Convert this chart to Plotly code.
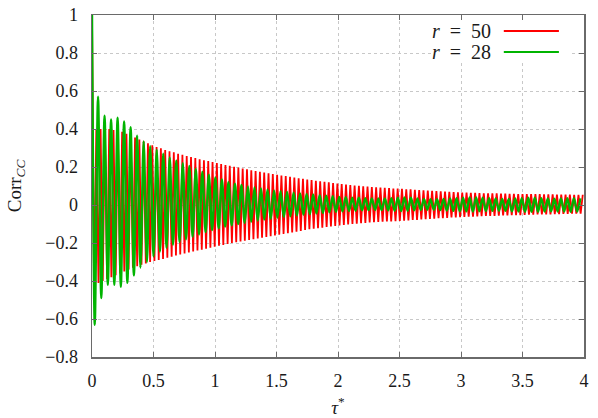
import numpy as np
import plotly.graph_objects as go

# ---------------- data ----------------
series_names = ["r = 50", "r = 28"]
start_value = 1.0

# r = 50 : half-period spacing of extrema and the extrema values
red_period = 0.035
red_first_trough = 0.0175
red_troughs = [
    -0.50, -0.41, -0.40, -0.39, -0.38, -0.37, -0.36, -0.35, -0.34, -0.33,
    -0.322, -0.315, -0.308, -0.30, -0.295, -0.29, -0.284, -0.278, -0.272, -0.266,
    -0.26, -0.255, -0.25, -0.245, -0.24, -0.235, -0.23, -0.225, -0.22, -0.215,
    -0.21, -0.205, -0.20, -0.196, -0.192, -0.188, -0.184, -0.18, -0.176, -0.172,
    -0.168, -0.164, -0.16, -0.156, -0.152, -0.148, -0.144, -0.14, -0.136, -0.132,
    -0.128, -0.125, -0.122, -0.119, -0.116, -0.113, -0.11, -0.107, -0.105, -0.103,
    -0.10, -0.098, -0.096, -0.094, -0.092, -0.09, -0.089, -0.088, -0.087, -0.086,
    -0.085, -0.084, -0.082, -0.081, -0.079, -0.078, -0.076, -0.075, -0.073, -0.072,
    -0.07, -0.069, -0.068, -0.066, -0.065, -0.064, -0.063, -0.062, -0.061, -0.060,
    -0.059, -0.058, -0.058, -0.057, -0.056, -0.055, -0.055, -0.054, -0.053, -0.053,
    -0.052, -0.051, -0.051, -0.050, -0.050, -0.049, -0.049, -0.048, -0.048, -0.047,
    -0.047, -0.046, -0.046, -0.045,
]
red_peaks = [
    0.40, 0.40, 0.40, 0.40, 0.395, 0.39, 0.385, 0.375, 0.365, 0.355,
    0.345, 0.335, 0.325, 0.315, 0.305, 0.298, 0.29, 0.283, 0.277, 0.27,
    0.264, 0.258, 0.252, 0.247, 0.241, 0.236, 0.231, 0.226, 0.221, 0.216,
    0.211, 0.206, 0.201, 0.197, 0.192, 0.188, 0.183, 0.179, 0.175, 0.171,
    0.167, 0.163, 0.159, 0.155, 0.152, 0.148, 0.145, 0.141, 0.138, 0.134,
    0.131, 0.128, 0.125, 0.122, 0.119, 0.116, 0.113, 0.110, 0.108, 0.105,
    0.103, 0.101, 0.099, 0.097, 0.095, 0.093, 0.092, 0.090, 0.089, 0.087,
    0.086, 0.085, 0.083, 0.082, 0.080, 0.079, 0.077, 0.076, 0.075, 0.073,
    0.072, 0.071, 0.070, 0.068, 0.067, 0.066, 0.065, 0.064, 0.064, 0.063,
    0.062, 0.062, 0.061, 0.061, 0.060, 0.060, 0.059, 0.059, 0.058, 0.058,
    0.058, 0.057, 0.057, 0.057, 0.056, 0.056, 0.056, 0.055, 0.055, 0.055,
    0.055, 0.054, 0.054, 0.054,
]

# r = 28
green_period = 0.053
green_first_trough = 0.0225
green_troughs = [
    -0.63, -0.49, -0.42, -0.42, -0.43, -0.41, -0.37, -0.33, -0.30, -0.27,
    -0.245, -0.225, -0.21, -0.195, -0.18, -0.167, -0.155, -0.143, -0.132, -0.122,
    -0.114, -0.107, -0.10, -0.094, -0.088, -0.082, -0.077, -0.072, -0.067, -0.063,
    -0.059, -0.055, -0.051, -0.048, -0.045, -0.042, -0.039, -0.036, -0.034, -0.032,
    -0.03, -0.028, -0.027, -0.026, -0.027, -0.028, -0.03, -0.032, -0.03, -0.028,
    -0.026, -0.025, -0.025, -0.027, -0.029, -0.031, -0.033, -0.034, -0.034, -0.033,
    -0.032, -0.031, -0.03, -0.031, -0.033, -0.035, -0.036, -0.036, -0.035, -0.034,
    -0.033, -0.034, -0.035, -0.036, -0.035,
]
green_peaks = [
    0.57, 0.47, 0.45, 0.46, 0.44, 0.41, 0.365, 0.335, 0.31, 0.29,
    0.27, 0.25, 0.235, 0.22, 0.205, 0.19, 0.175, 0.16, 0.145, 0.135,
    0.12, 0.112, 0.105, 0.098, 0.092, 0.087, 0.082, 0.077, 0.073, 0.069,
    0.065, 0.061, 0.058, 0.055, 0.052, 0.049, 0.046, 0.043, 0.041, 0.039,
    0.038, 0.036, 0.035, 0.034, 0.035, 0.036, 0.038, 0.04, 0.038, 0.035,
    0.032, 0.03, 0.03, 0.032, 0.034, 0.036, 0.038, 0.04, 0.04, 0.038,
    0.036, 0.034, 0.032, 0.032, 0.034, 0.036, 0.038, 0.038, 0.036, 0.034,
    0.033, 0.034, 0.036, 0.036, 0.035,
]

x_ticks = [0, 0.5, 1, 1.5, 2, 2.5, 3, 3.5, 4]
y_ticks = [-0.8, -0.6, -0.4, -0.2, 0, 0.2, 0.4, 0.6, 0.8, 1]


def build(first_trough, period, troughs, peaks):
    n = min(len(troughs), len(peaks))
    t_tr = first_trough + period * np.arange(n)
    t_pk = t_tr + period / 2
    xs = [0.0]
    ys = [start_value]
    for i in range(n):
        xs += [t_tr[i], t_pk[i]]
        ys += [troughs[i], peaks[i]]
    return xs, ys


rx, ry = build(red_first_trough, red_period, red_troughs, red_peaks)
gx, gy = build(green_first_trough, green_period, green_troughs, green_peaks)

RED = "#ff0000"
GREEN = "#00b400"
FONT = "Liberation Serif"
TXT = "#1a1a1a"

fig = go.Figure()
fig.add_trace(go.Scatter(x=rx, y=ry, mode="lines", name=series_names[0],
                         line=dict(color=RED, width=1.8), showlegend=False))
fig.add_trace(go.Scatter(x=gx, y=gy, mode="lines", name=series_names[1],
                         line=dict(color=GREEN, width=2.4, shape="spline", smoothing=0.8),
                         showlegend=False))

axis_common = dict(
    showline=True, linecolor="#6a6a6a", linewidth=1.5, mirror="allticks",
    ticks="inside", ticklen=5, tickcolor="#6a6a6a", tickwidth=1,
    showgrid=True, gridcolor="#c8c8c8", griddash="dot", gridwidth=1,
    zeroline=False, automargin=False, ticklabeloverflow="allow",
    tickfont=dict(family=FONT, size=18, color=TXT),
)

fig.update_xaxes(range=[0, 4], tickvals=x_ticks, ticktext=[f"{v:g}" for v in x_ticks],
                 title=dict(text="<i>τ</i><sup>*</sup>", font=dict(family=FONT, size=19, color=TXT),
                            standoff=16),
                 ticklabelstandoff=7, **axis_common)
fig.update_yaxes(range=[-0.8, 1], tickvals=y_ticks,
                 ticktext=[f"{v:g}".replace("-", "−") for v in y_ticks],
                 title=dict(text="Corr<sub><i>CC</i></sub>", font=dict(family=FONT, size=19, color=TXT),
                            standoff=18),
                 ticklabelstandoff=9, **axis_common)

# legend drawn manually (text left, sample line right)
fig.add_shape(type="rect", xref="paper", yref="paper", x0=0.69, x1=0.975, y0=0.86, y1=0.985,
              fillcolor="white", line=dict(width=0), layer="above")
for name, col, yp in [(series_names[0], RED, 0.953), (series_names[1], GREEN, 0.892)]:
    label = "<i>r</i>\u2002=\u2002" + name.split("= ")[1]
    fig.add_annotation(xref="paper", yref="paper", x=0.815, y=yp, text=label, showarrow=False,
                       xanchor="right", yanchor="middle", font=dict(family=FONT, size=20, color=TXT))
    fig.add_shape(type="line", xref="paper", yref="paper", x0=0.837, x1=0.949, y0=yp, y1=yp,
                  line=dict(color=col, width=2), layer="above")

fig.update_layout(width=598, height=418, margin=dict(l=92, r=14, t=15, b=61, autoexpand=False),
                  plot_bgcolor="white", paper_bgcolor="white",
                  font=dict(family=FONT, color=TXT))

# remove the default 8px page margin so the figure fills the window exactly
fig.write_html("out.html", config={"displayModeBar": False, "staticPlot": True},
               post_script="document.body.style.margin='0px';")
